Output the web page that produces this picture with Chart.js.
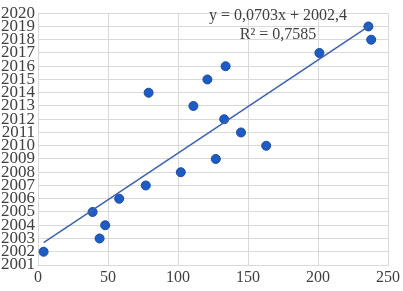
<!DOCTYPE html>
<html>
<head>
<meta charset="utf-8">
<script src="https://cdn.jsdelivr.net/npm/chart.js@4/dist/chart.umd.min.js"></script>
<style>
  html, body { margin: 0; padding: 0; background: #fff; }
  #wrap { width: 403px; height: 291px; }
</style>
</head>
<body>
<div id="wrap"><canvas id="scatterChart"></canvas></div>
<script>
// values
const xValues = [4, 44, 48, 39, 58, 77, 102, 127, 163, 145, 133, 111, 79, 121, 134, 201, 238, 236];
const years = [2002, 2003, 2004, 2005, 2006, 2007, 2008, 2009, 2010, 2011, 2012, 2013, 2014, 2015, 2016, 2017, 2018, 2019];
const slope = 0.0703;
const intercept = 2002.4;
const equationLines = ['y = 0,0703x + 2002,4', 'R\u00b2 = 0,7585'];

const points = xValues.map((x, i) => ({ x: x, y: years[i] }));
const xMin = Math.min(...xValues);
const xMax = Math.max(...xValues);
const trendPoints = [
    { x: xMin, y: slope * xMin + intercept },
    { x: xMax, y: slope * xMax + intercept }
];

const equationLabel = {
    id: 'equationLabel',
    afterDatasetsDraw(chart) {
        const ctx = chart.ctx;
        ctx.save();
        ctx.font = '16px "Liberation Serif"';
        ctx.fillStyle = '#404040';
        ctx.textAlign = 'center';
        ctx.textBaseline = 'middle';
        ctx.fillText(equationLines[0], 278, 16);
        ctx.fillText(equationLines[1], 278, 35);
        ctx.restore();
    }
};

const scatterConfig = {
    type: 'scatter',
    data: {
        datasets: [
            {
                type: 'line',
                data: trendPoints,
                borderColor: '#3b63ad',
                borderWidth: 1.5,
                pointRadius: 0,
                fill: false
            },
            {
                data: points,
                backgroundColor: '#1d5cc4',
                borderColor: '#1a4c9e',
                borderWidth: 1,
                pointRadius: 4.5
            }
        ]
    },
    plugins: [equationLabel],
    options: {
        responsive: true,
        maintainAspectRatio: false,
        animation: false,
        layout: {
            padding: {
                top: 6,
                bottom: 0,
                left: 0,
                right: 11
            }
        },
        plugins: {
            legend: {
                display: false
            },
            tooltip: {
                enabled: false
            }
        },
        scales: {
            x: {
                type: 'linear',
                min: 0,
                max: 250,
                afterFit(scale) { scale.height = 26; },
                ticks: {
                    stepSize: 50,
                    color: '#404040',
                    font: { family: 'Liberation Serif', size: 16 },
                    padding: 3,
                    maxRotation: 0
                },
                grid: {
                    color: '#d9d9d9',
                    drawTicks: false
                },
                border: {
                    color: '#d9d9d9'
                }
            },
            y: {
                type: 'linear',
                min: 2001,
                max: 2020,
                afterFit(scale) { scale.width = 38; },
                ticks: {
                    stepSize: 1,
                    autoSkip: false,
                    color: '#404040',
                    font: { family: 'Liberation Serif', size: 17 },
                    padding: 3,
                    callback: v => String(v)
                },
                grid: {
                    color: '#d9d9d9',
                    drawTicks: false
                },
                border: {
                    color: '#d9d9d9'
                }
            }
        }
    }
};

const scatterChart = new Chart(document.getElementById('scatterChart'), scatterConfig);
</script>
</body>
</html>
